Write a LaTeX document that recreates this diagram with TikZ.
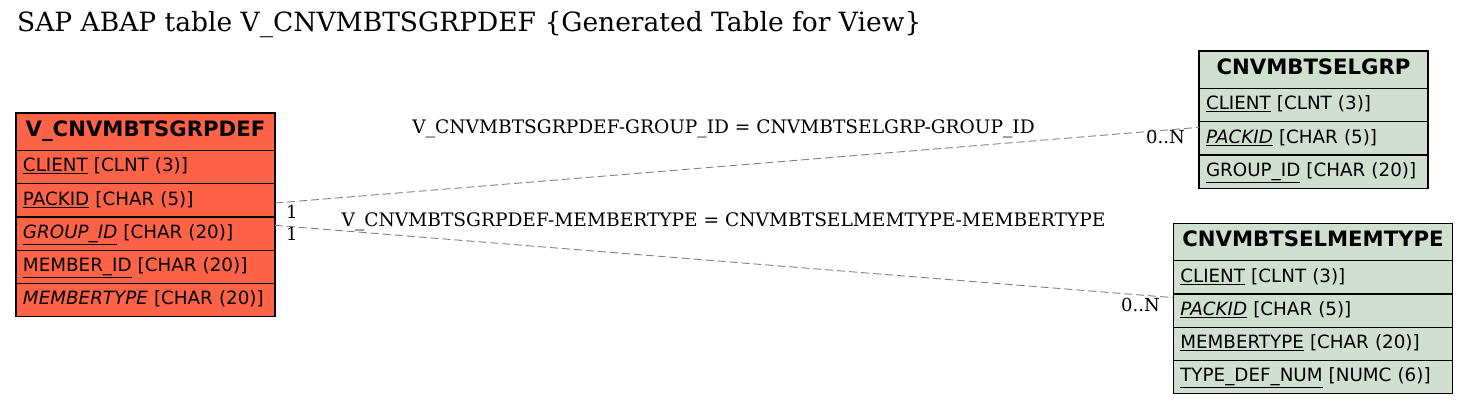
\documentclass[tikz,border=0pt]{standalone}
\usepackage{fontspec}
\setmainfont{DejaVu Serif}
\setsansfont{DejaVu Sans}
\usetikzlibrary{positioning}
\usetikzlibrary{calc}

\definecolor{viewred}{RGB}{255,99,71}
\definecolor{tabgreen}{RGB}{208,223,208}
\definecolor{relgray}{RGB}{128,128,128}

\tikzset{
    tabhead/.style 2 args={draw, line width=1.1pt, outer sep=0pt, fill=#2, text width=#1, align=center,
        minimum height=37.4pt, inner xsep=7pt, inner ysep=0pt, text height=15pt, text depth=5.6pt,
        font=\sffamily\bfseries\fontsize{21.2}{21.2}\selectfont},
    tabrow/.style 2 args={draw, line width=1.1pt, outer sep=0pt, fill=#2, text width=#1, align=left,
        minimum height=33.3pt, inner xsep=7pt, inner ysep=0pt, text height=14pt, text depth=4.6pt,
        font=\sffamily\fontsize{18.3}{18.3}\selectfont},
    relline/.style={relgray, line width=0.9pt, dash pattern=on 8pt off 4pt},
    card/.style={inner sep=0pt, font=\fontsize{18}{18}\selectfont},
    rellabel/.style={inner sep=0pt, font=\fontsize{18.6}{18.6}\selectfont}
}

\begin{document}
\begin{tikzpicture}[x=1pt, y=-1pt]
    \useasboundingbox (0,0) rectangle (1468,405);

    \node[anchor=base west, inner sep=0pt, font=\fontsize{26.5}{26.5}\selectfont] (title) at (17,31)
        {SAP ABAP table V\_CNVMBTSGRPDEF \{Generated Table for View\}};

    % V_CNVMBTSGRPDEF
    \node[tabhead={245pt}{viewred}, anchor=north west] (vhead) at (16,113) {V\_CNVMBTSGRPDEF};
    \node[tabrow={245pt}{viewred}, below=0pt of vhead] (vclient) {\underline{CLIENT} [CLNT (3)]};
    \node[tabrow={245pt}{viewred}, below=0pt of vclient] (vpackid) {\underline{PACKID} [CHAR (5)]};
    \node[tabrow={245pt}{viewred}, below=0pt of vpackid] (vgroupid) {\underline{\textit{GROUP\_ID}} [CHAR (20)]};
    \node[tabrow={245pt}{viewred}, below=0pt of vgroupid] (vmemberid) {\underline{MEMBER\_ID} [CHAR (20)]};
    \node[tabrow={245pt}{viewred}, below=0pt of vmemberid] (vmembertype) {\textit{MEMBERTYPE} [CHAR (20)]};

    % CNVMBTSELGRP
    \node[tabhead={215pt}{tabgreen}, anchor=north west] (ghead) at (1199,51) {CNVMBTSELGRP};
    \node[tabrow={215pt}{tabgreen}, below=0pt of ghead] (gclient) {\underline{CLIENT} [CLNT (3)]};
    \node[tabrow={215pt}{tabgreen}, below=0pt of gclient] (gpackid) {\underline{\textit{PACKID}} [CHAR (5)]};
    \node[tabrow={215pt}{tabgreen}, below=0pt of gpackid] (ggroupid) {\underline{GROUP\_ID} [CHAR (20)]};

    % CNVMBTSELMEMTYPE
    \node[tabhead={265.4pt}{tabgreen}, anchor=north west] (mhead) at (1173.3,223.3) {CNVMBTSELMEMTYPE};
    \node[tabrow={265.4pt}{tabgreen}, below=0pt of mhead] (mclient) {\underline{CLIENT} [CLNT (3)]};
    \node[tabrow={265.4pt}{tabgreen}, below=0pt of mclient] (mpackid) {\underline{\textit{PACKID}} [CHAR (5)]};
    \node[tabrow={265.4pt}{tabgreen}, below=0pt of mpackid] (mmembertype) {\underline{MEMBERTYPE} [CHAR (20)]};
    \node[tabrow={265.4pt}{tabgreen}, below=0pt of mmembertype] (mtypedefnum) {\underline{TYPE\_DEF\_NUM} [NUMC (6)]};

    % relations
    \draw[relline] ([yshift=-2.7pt]vpackid.east) -- ([yshift=11pt]gpackid.west);
    \draw[relline] ([yshift=8.3pt]vgroupid.east) -- ([yshift=13pt]mpackid.west);

    \node[rellabel, anchor=base] (rgroup) at (723.5,133) {V\_CNVMBTSGRPDEF-GROUP\_ID = CNVMBTSELGRP-GROUP\_ID};
    \node[rellabel, anchor=base] (rmember) at (723.5,226) {V\_CNVMBTSGRPDEF-MEMBERTYPE = CNVMBTSELMEMTYPE-MEMBERTYPE};

    \node[card, anchor=base west] (cgroupv) at ([xshift=11pt, yshift=-18pt]vpackid.east) {1};
    \node[card, anchor=base west] (cmemberv) at ([xshift=11pt, yshift=-6.7pt]vgroupid.east) {1};
    \node[card, anchor=base east] (cgroupg) at ([xshift=-14pt, yshift=-5pt]gpackid.west) {0..N};
    \node[card, anchor=base east] (cmemberm) at ([xshift=-13.3pt, yshift=-1pt]mpackid.west) {0..N};
\end{tikzpicture}
\end{document}
